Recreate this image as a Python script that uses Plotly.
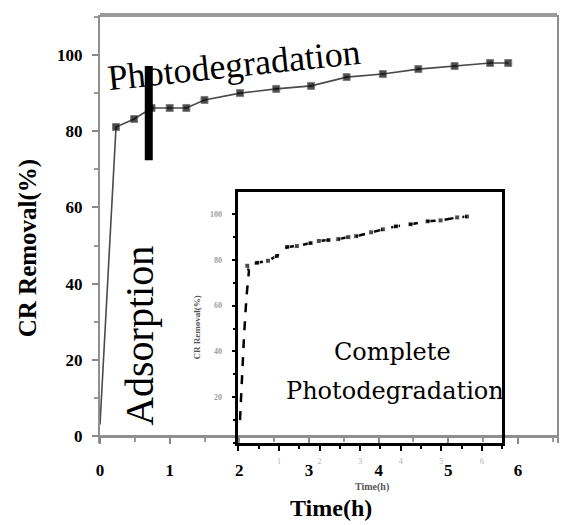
import plotly.graph_objects as go

# ---------------- data ----------------
# main curve: time (h) vs CR removal (%)
main_time = [0.0, 0.23, 0.49, 0.74, 1.0, 1.24, 1.5, 2.01, 2.53, 3.03, 3.54, 4.06, 4.57, 5.09, 5.6, 5.86]
main_removal = [3, 81.1, 83.2, 86.1, 86.1, 86.1, 88.2, 90.0, 91.1, 91.9, 94.2, 95.0, 96.3, 97.1, 97.9, 97.9]

# divider bar between adsorption / photodegradation stages
divider_time = [0.70, 0.70]
divider_removal = [72.4, 97.1]

# inset curve
inset_time = [0.04, 0.08, 0.14, 0.20, 0.26, 0.22, 0.46, 0.73, 0.95, 1.20, 1.44, 1.78, 1.98, 2.22, 2.46,
              2.71, 2.90, 3.27, 3.56, 3.88, 4.24, 4.66, 4.98, 5.39, 5.63]
inset_removal = [10, 28, 47, 64, 75, 77.4, 78.7, 79.6, 81.7, 85.6, 86.0, 87.3, 88.2, 88.6, 89.0,
                 89.9, 90.3, 92.0, 93.3, 94.6, 95.5, 96.8, 97.2, 98.5, 98.9]

main_xticks = [0, 1, 2, 3, 4, 5, 6]
main_yticks = [0, 20, 40, 60, 80, 100]
inset_xticks = [0, 1, 2, 3, 4, 5, 6]
inset_xlabels = ["", "1", "2", "3", "4", "5", "6"]
inset_yticks = [20, 40, 60, 80, 100]

SERIF = "Liberation Serif"
SLAB = "DejaVu Serif"

main_marker_sizes = [0] + [7] * (len(main_time) - 1)
inset_marker_sizes = [0 if v < 76 else 5 for v in inset_removal]

fig = go.Figure()

fig.add_trace(go.Scatter(
    x=main_time, y=main_removal, mode="lines+markers",
    line=dict(color="#4a4a4a", width=1.6),
    marker=dict(symbol="square", size=main_marker_sizes, color="black"),
    xaxis="x", yaxis="y", showlegend=False))

fig.add_trace(go.Scatter(
    x=divider_time, y=divider_removal, mode="lines",
    line=dict(color="black", width=8),
    xaxis="x", yaxis="y", showlegend=False))

fig.add_trace(go.Scatter(
    x=inset_time, y=inset_removal, mode="lines+markers",
    line=dict(color="black", width=2.5, dash="dash"),
    marker=dict(symbol="square", size=inset_marker_sizes, color="black"),
    xaxis="x2", yaxis="y2", showlegend=False))

tickfont_main = dict(family=SERIF, size=17, color="black", weight="bold")

fig.update_layout(
    width=562, height=525,
    margin=dict(l=100, r=3, t=15, b=82),
    paper_bgcolor="white", plot_bgcolor="rgba(0,0,0,0)",
    font=dict(family=SERIF),
    xaxis=dict(
        domain=[0, 1], range=[0, 6.56], anchor="free", position=0.0164,
        tickmode="array", tickvals=main_xticks,
        ticks="outside", ticklen=6, tickwidth=1.5, tickcolor="#888888",
        minor=dict(dtick=0.5, ticks="outside", ticklen=4, tickcolor="#999999"),
        showline=True, linecolor="#8f8f8f", linewidth=3,
        showgrid=False, zeroline=False, tickfont=tickfont_main, ticklabelstandoff=12),
    yaxis=dict(
        domain=[0, 1], range=[-1.84, 110.5], anchor="x",
        tickmode="array", tickvals=main_yticks,
        ticks="outside", ticklen=6, tickwidth=1.5, tickcolor="#888888",
        minor=dict(dtick=10, ticks="outside", ticklen=4, tickcolor="#999999"),
        showline=True, linecolor="#8f8f8f", linewidth=2, mirror=True,
        showgrid=False, zeroline=False, tickfont=tickfont_main, ticklabelstandoff=6),
    xaxis2=dict(
        domain=[0.3028, 0.8802], range=[0, 6.5], anchor="y2",
        tickmode="array", tickvals=inset_xticks, ticktext=inset_xlabels,
        ticks="outside", ticklen=5, tickwidth=2, tickcolor="black",
        minor=dict(dtick=0.5, ticks="outside", ticklen=3, tickcolor="black"),
        showline=True, linecolor="black", linewidth=2.5, mirror=True,
        showgrid=False, zeroline=False,
        tickfont=dict(family=SERIF, size=8, color="#b0b0b0"), ticklabelstandoff=4),
    yaxis2=dict(
        domain=[0, 0.5864], range=[0, 109.6], anchor="x2",
        tickmode="array", tickvals=inset_yticks,
        ticks="outside", ticklen=4, tickwidth=2, tickcolor="black",
        minor=dict(dtick=10, ticks="outside", ticklen=3, tickcolor="black"),
        showline=True, linecolor="black", linewidth=2.5, mirror=True,
        showgrid=False, zeroline=False,
        tickfont=dict(family=SERIF, size=8, color="#a0a0a0", weight="bold"), ticklabelstandoff=8),
    shapes=[dict(type="line", xref="paper", yref="paper", x0=0, x1=1, y0=1, y1=1,
                 line=dict(color="#9a9a9a", width=4))],
)

def ann(text, x, y, size, angle=0, family=SERIF, bold=False, color="black"):
    f = dict(family=family, size=size, color=color)
    if bold:
        f["weight"] = "bold"
    fig.add_annotation(text=text, x=x, y=y, xref="paper", yref="paper",
                       showarrow=False, textangle=angle, font=f,
                       xanchor="center", yanchor="middle")

ann("Photodegradation", 0.294, 0.883, 36, angle=-6)
ann("Adsorption", 0.085, 0.25, 40, angle=-90)
ann("Complete", 0.6405, 0.2126, 24, family=SLAB)
ann("Photodegradation", 0.645, 0.1215, 24, family=SLAB)
ann("CR Removal(%)", -0.157, 0.4556, 25, angle=-90, bold=True)
ann("Time(h)", 0.5054, -0.152, 24, bold=True)
ann("Time(h)", 0.5948, -0.1028, 10, bold=True, color="#555555")
ann("CR Removal(%)", 0.2113, 0.2687, 9, angle=-90, bold=True, color="#555555")

fig.write_html("out.html")
